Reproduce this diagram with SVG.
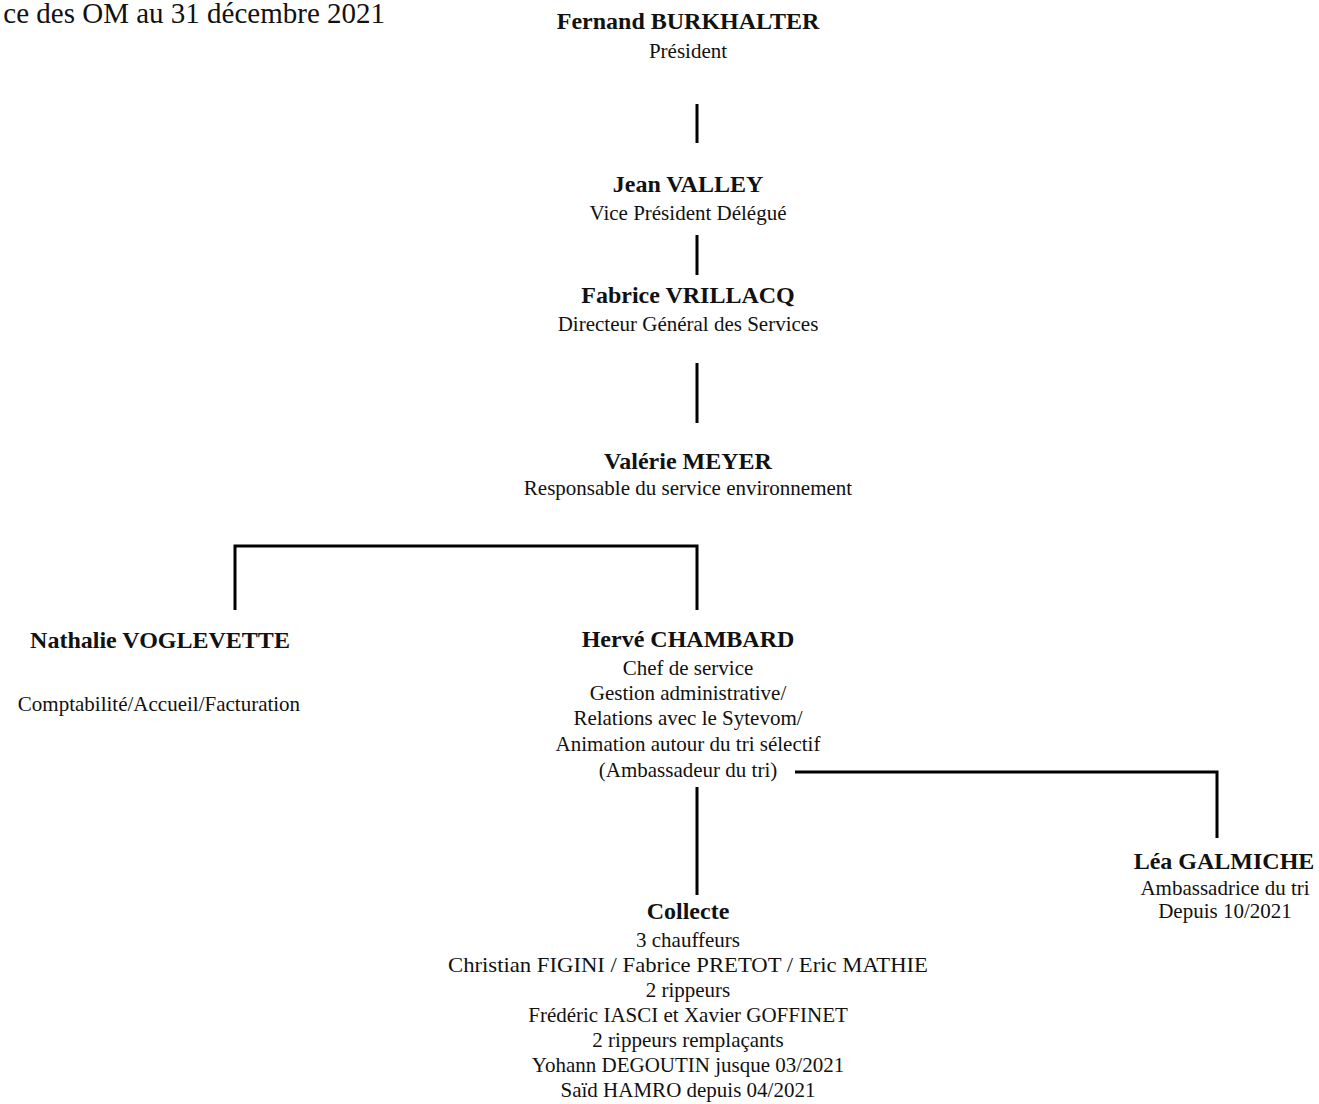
<svg xmlns="http://www.w3.org/2000/svg" width="1319" height="1104" viewBox="0 0 1319 1104">
<style>
text { font-family: "Liberation Serif", "Times New Roman", serif; fill: #111; text-anchor: middle; }
.b { font-size: 24px; font-weight: bold; }
.r { font-size: 21px; }
.t { font-size: 29px; text-anchor: end; }
.c { stroke: #000; stroke-width: 3; fill: none; stroke-linecap: butt; }
</style>
<rect width="1319" height="1104" fill="#fff"/>
<g id="title"><text class="t" x="385" y="23">ce des OM au 31 décembre 2021</text></g>
<g id="connectors">
<line class="c" x1="697" y1="104" x2="697" y2="143"/>
<line class="c" x1="697" y1="235" x2="697" y2="275"/>
<line class="c" x1="697" y1="363" x2="697" y2="423"/>
<polyline class="c" points="235,610 235,546 697,546 697,610"/>
<polyline class="c" points="795,772 1217,772 1217,838"/>
<line class="c" x1="697" y1="787" x2="697" y2="895"/>
</g>
<g id="node-burkhalter">
<text class="b" x="688" y="29">Fernand BURKHALTER</text>
<text class="r" x="688" y="58">Président</text>
</g>
<g id="node-valley">
<text class="b" x="688" y="192">Jean VALLEY</text>
<text class="r" x="688" y="220">Vice Président Délégué</text>
</g>
<g id="node-vrillacq">
<text class="b" x="688" y="303">Fabrice VRILLACQ</text>
<text class="r" x="688" y="331">Directeur Général des Services</text>
</g>
<g id="node-meyer">
<text class="b" x="688" y="469">Valérie MEYER</text>
<text class="r" x="688" y="495">Responsable du service environnement</text>
</g>
<g id="node-voglevette">
<text class="b" x="160" y="648">Nathalie VOGLEVETTE</text>
<text class="r" x="159" y="711">Comptabilité/Accueil/Facturation</text>
</g>
<g id="node-chambard">
<text class="b" x="688" y="647">Hervé CHAMBARD</text>
<text class="r" x="688" y="675">Chef de service</text>
<text class="r" x="688" y="700">Gestion administrative/</text>
<text class="r" x="688" y="725">Relations avec le Sytevom/</text>
<text class="r" x="688" y="751">Animation autour du tri sélectif</text>
<text class="r" x="688" y="777">(Ambassadeur du tri)</text>
</g>
<g id="node-galmiche">
<text class="b" x="1224" y="869">Léa GALMICHE</text>
<text class="r" x="1225" y="895">Ambassadrice du tri</text>
<text class="r" x="1225" y="918">Depuis 10/2021</text>
</g>
<g id="node-collecte">
<text class="b" x="688" y="919">Collecte</text>
<text class="r" x="688" y="947">3 chauffeurs</text>
<text class="r" x="688" y="972" textLength="480" lengthAdjust="spacingAndGlyphs">Christian FIGINI / Fabrice PRETOT / Eric MATHIE</text>
<text class="r" x="688" y="997">2 rippeurs</text>
<text class="r" x="688" y="1022">Frédéric IASCI et Xavier GOFFINET</text>
<text class="r" x="688" y="1047">2 rippeurs remplaçants</text>
<text class="r" x="688" y="1072">Yohann DEGOUTIN jusque 03/2021</text>
<text class="r" x="688" y="1097">Saïd HAMRO depuis 04/2021</text>
</g>
</svg>
